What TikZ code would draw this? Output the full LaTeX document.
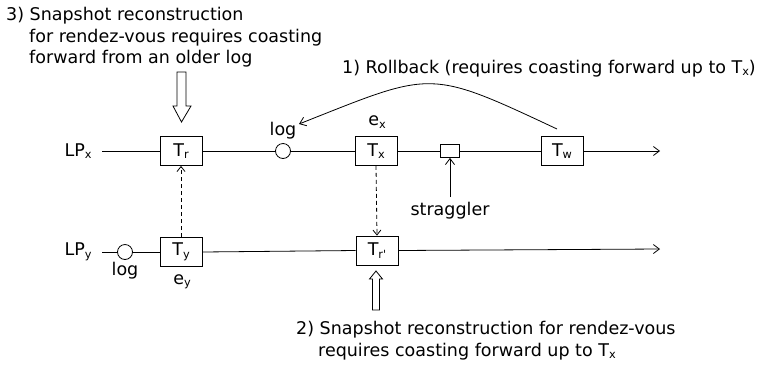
\documentclass[tikz,border=0pt]{standalone}
\usepackage{fontspec}
\setmainfont{DejaVu Sans}
\usetikzlibrary{arrows.meta}
\newcommand{\mysub}[1]{\raisebox{-2.5bp}{\fontsize{11.3bp}{11.3bp}\selectfont #1}}
\tikzset{
  tbox/.style={draw, line width=0.8bp, rectangle, minimum width=42bp, minimum height=29bp, inner sep=0pt, fill=white},
  logc/.style={draw, line width=0.8bp, circle, minimum size=15bp, inner sep=0pt, fill=white},
  stragbox/.style={draw, line width=0.8bp, rectangle, minimum width=19bp, minimum height=13bp, inner sep=0pt, fill=white},
  lbl/.style={inner sep=0pt},
  txt/.style={inner sep=0pt, anchor=base west},
  tl/.style={line width=0.8bp},
  tip/.style={-{Straight Barb[length=6bp,width=9bp]}},
  dtip/.style={-{Straight Barb[length=5bp,width=8bp]}, dash pattern=on 4bp off 3bp, line width=0.8bp},
  hollow/.style={draw, line width=0.8bp, fill=white, line join=miter},
}
\begin{document}
\begin{tikzpicture}[x=1bp, y=-1bp, every node/.style={font=\fontsize{17.5bp}{21bp}\selectfont}]
\useasboundingbox (0,0) rectangle (759,364);

% LP_x line
\node[lbl] (lpx) at (78,151) {LP\mysub{x}};
\coordinate (lpxs) at (102,151);
\coordinate (lpxe) at (660,151);
\node[tbox] (tr) at (181,151) {T\mysub{r}};
\node[logc] (logx) at (283,151) {};
\node[tbox] (tx) at (376,151) {T\mysub{x}};
\node[stragbox] (sb) at (450,151) {};
\node[tbox] (tw) at (562,151) {T\mysub{w}};
\draw[tl] (lpxs) -- (tr.west);
\draw[tl] (tr.east) -- (logx.west);
\draw[tl] (logx.east) -- (tx.west);
\draw[tl] (tx.east) -- (sb.west);
\draw[tl] (sb.east) -- (tw.west);
\draw[tl, tip] (tw.east) -- (lpxe);

% LP_y line
\node[lbl] (lpy) at (78,252) {LP\mysub{y}};
\coordinate (lpys) at (102,252);
\coordinate (lpye) at (660,249);
\node[logc] (logy) at (125,252) {};
\node[tbox] (ty) at (181,252) {T\mysub{y}};
\node[tbox] (trp) at (377,250.5) {T\mysub{r\textquotesingle}};
\draw[tl] (lpys) -- (logy.west);
\draw[tl] (logy.east) -- (ty.west);
\draw[tl] (ty.east) -- (trp.west);
\draw[tl, tip] (trp.east) -- (lpye);

% labels near nodes
\node[lbl] (logxl) at (283,131) {log};
\node[lbl] (logyl) at (125,271) {log};
\node[lbl] (exl) at (377,122) {e\mysub{x}};
\node[lbl] (eyl) at (182,282) {e\mysub{y}};

% dashed arrows
\draw[dtip] (ty.north) -- (tr.south);
\draw[dtip] (tx.south) -- (trp.north);

% straggler
\node[txt, anchor=base] (strag) at (450,215) {straggler};
\draw[tl, tip] (450,197) -- (sb.south);

% rollback curve
\coordinate (cws) at (557,129);
\coordinate (clog) at (299,124);
\draw[tl, tip] (cws) .. controls (427,68) and (433,71) .. (clog);
\node[txt] (t1) at (342,73) {1) Rollback (requires coasting forward up to T\mysub{x})};

% text 3
\node[txt] (t3a) at (6,20) {3) Snapshot reconstruction};
\node[txt] (t3b) at (29,42) {for rendez-vous requires coasting};
\node[txt] (t3c) at (29,63) {forward from an older log};
\draw[hollow] (177,72) -- (186,72) -- (186,106) -- (191,106) -- (181.5,122) -- (173,106) -- (177,106) -- cycle;

% text 2
\node[txt] (t2a) at (296,334) {2) Snapshot reconstruction for rendez-vous};
\node[txt] (t2b) at (318,356) {requires coasting forward up to T\mysub{x}};
\draw[hollow] (372.5,310) -- (379.5,310) -- (379.5,279) -- (382.5,279) -- (376,271) -- (369.5,279) -- (372.5,279) -- cycle;
\end{tikzpicture}
\end{document}
